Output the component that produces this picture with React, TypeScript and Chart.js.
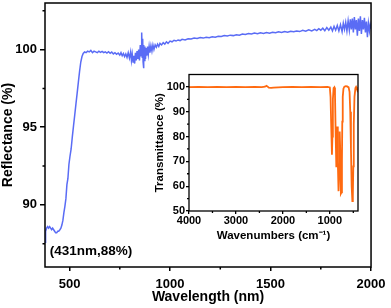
import React, { useEffect, useRef } from 'react';
import { Chart, registerables } from 'chart.js';

Chart.register(...registerables);

// ---------- Main chart data: diffuse reflectance ----------
const wavelength = [
  378, 381, 386, 391, 396, 401, 406, 411, 416, 421, 426, 431, 436, 441, 446, 452, 457, 462, 467, 472,
  477, 482, 487, 492, 497, 502, 508, 514, 520, 526, 532, 538, 544, 550, 556, 562, 568, 575, 582, 590,
  598, 606, 614, 622, 630, 638, 646, 654, 662, 670, 678, 686, 694, 702, 710, 718, 726, 734, 742, 750,
  756, 762, 768, 774, 780, 786, 792, 798, 804, 808, 812, 816, 820, 824, 828, 832, 836, 840, 844, 848,
  852, 856, 858, 860, 862, 864, 866, 868, 870, 872, 875, 878, 881, 884, 888, 892, 896, 900, 905, 910,
  915, 920, 926, 932, 938, 944, 950, 958, 966, 974, 982, 990, 1000, 1010, 1020, 1030, 1040, 1050, 1060, 1075,
  1090, 1105, 1120, 1135, 1150, 1165, 1180, 1195, 1210, 1225, 1240, 1255, 1270, 1285, 1300, 1315, 1330, 1345, 1360, 1375,
  1390, 1405, 1420, 1435, 1450, 1465, 1480, 1495, 1510, 1525, 1540, 1555, 1570, 1585, 1600, 1615, 1630, 1645, 1660, 1675,
  1690, 1705, 1720, 1730, 1740, 1750, 1760, 1770, 1780, 1790, 1800, 1808, 1816, 1824, 1832, 1840, 1848, 1856, 1862, 1868,
  1874, 1880, 1886, 1892, 1897, 1902, 1907, 1912, 1917, 1922, 1927, 1932, 1937, 1942, 1947, 1952, 1957, 1962, 1967, 1972,
  1977, 1982, 1987, 1992, 1996, 2000,
];
const reflectance = [
  87.6, 88.3, 88.5, 88.6, 88.5, 88.6, 88.5, 88.4, 88.5, 88.4, 88.3, 88.2, 88.2, 88.3, 88.3, 88.4, 88.5, 88.7, 89.0, 89.5,
  89.9, 90.4, 91.3, 91.7, 92.6, 93.1, 93.6, 94.4, 95.1, 95.8, 96.5, 97.2, 97.9, 98.6, 99.2, 99.55, 99.75, 99.85, 99.8, 99.9,
  99.85, 99.95, 99.8, 99.9, 99.85, 99.8, 99.9, 99.82, 99.88, 99.8, 99.85, 99.78, 99.86, 99.76, 99.84, 99.72, 99.8, 99.7, 99.78, 99.64,
  99.8, 99.6, 99.75, 99.55, 99.72, 99.5, 99.8, 99.45, 99.85, 99.3, 99.7, 99.2, 99.6, 99.1, 99.8, 99.3, 99.9, 99.4, 100.0, 99.3,
  100.3, 99.6, 100.6, 101.1, 99.5, 100.7, 99.2, 98.8, 100.3, 99.3, 100.2, 99.4, 100.1, 99.6, 100.2, 99.7, 100.2, 99.8, 100.25, 99.9,
  100.3, 100.0, 100.3, 100.15, 100.35, 100.2, 100.4, 100.3, 100.45, 100.35, 100.5, 100.4, 100.55, 100.5, 100.6, 100.55, 100.62, 100.58, 100.66, 100.62,
  100.7, 100.68, 100.74, 100.72, 100.78, 100.74, 100.8, 100.77, 100.83, 100.8, 100.86, 100.84, 100.9, 100.87, 100.93, 100.9, 100.96, 100.93, 101.0, 100.97,
  101.03, 101.0, 101.06, 101.02, 101.08, 101.04, 101.1, 101.06, 101.12, 101.08, 101.14, 101.1, 101.16, 101.12, 101.18, 101.15, 101.2, 101.16, 101.24, 101.18,
  101.27, 101.2, 101.3, 101.22, 101.35, 101.25, 101.38, 101.22, 101.42, 101.25, 101.45, 101.2, 101.5, 101.25, 101.55, 101.2, 101.6, 101.15, 101.7, 101.3,
  101.75, 101.2, 101.85, 101.25, 101.95, 101.3, 102.0, 101.1, 102.1, 101.3, 101.9, 100.9, 102.0, 101.2, 102.15, 101.0, 101.9, 101.3, 102.05, 101.1,
  101.8, 100.8, 101.7, 101.2, 101.6, 101.35,
];

// ---------- Inset data: FTIR transmittance ----------
const wavenumber = [
  4000, 3800, 3600, 3400, 3200, 3000, 2800, 2600, 2450, 2380, 2350, 2330, 2300, 2250, 2200, 2100, 2000, 1800, 1600, 1400,
  1200, 1050, 1000, 985, 970, 955, 945, 935, 920, 905, 890, 875, 862, 852, 842, 830, 815, 800, 790, 778,
  765, 752, 742, 735, 725, 710, 690, 660, 630, 600, 580, 565, 550, 535, 520, 510, 500, 490, 475, 455,
  440, 425, 410, 400,
];
const transmittance = [
  99.9, 100.0, 99.9, 100.0, 99.95, 100.0, 99.9, 100.0, 99.95, 100.1, 100.45, 100.2, 99.7, 99.6, 99.7, 99.8, 99.9, 100.0, 99.9, 100.0,
  99.95, 100.0, 99.8, 96, 84, 72.7, 80, 95, 99.5, 99.8, 97, 80, 68, 75, 84, 70, 58, 68, 82, 74,
  57, 57.5, 70, 86, 96, 99.3, 100.1, 100.3, 100.2, 99.8, 98, 90, 75, 60, 54, 56, 68, 85, 96, 99.5,
  100, 99.5, 98.5, 97.8,
];

// ---------- Ticks ----------
const mainXTicks = [500, 1000, 1500, 2000];
const mainXMinor = [750, 1250, 1750];
const mainYTicks = [90, 95, 100];
const mainYMinor = [87.5, 92.5, 97.5, 102.5];
const insetXTicks = [4000, 3000, 2000, 1000];
const insetXMinor = [3500, 2500, 1500, 500];
const insetYTicks = [50, 60, 70, 80, 90, 100];
const insetYMinor = [55, 65, 75, 85, 95];

const annotationText = '(431nm,88%)';
const annotationAt = [402, 87.04];

const FONT = "'Liberation Sans', Arial, Helvetica, sans-serif";

function framePlugin(id: string, minorX: number[], minorY: number[], minorLen: number, lw: number, fillWhite: boolean) {
  return {
    id,
    beforeDraw(chart: any) {
      if (!fillWhite) return;
      const { ctx, chartArea: a } = chart;
      ctx.save();
      ctx.fillStyle = '#ffffff';
      ctx.fillRect(a.left, a.top, a.right - a.left, a.bottom - a.top);
      ctx.restore();
    },
    afterDraw(chart: any) {
      const { ctx, chartArea: a, scales } = chart;
      ctx.save();
      ctx.strokeStyle = '#000';
      ctx.lineWidth = lw;
      ctx.strokeRect(a.left, a.top, a.right - a.left, a.bottom - a.top);
      ctx.beginPath();
      minorX.forEach((v) => {
        const px = scales.x.getPixelForValue(v);
        ctx.moveTo(px, a.bottom);
        ctx.lineTo(px, a.bottom + minorLen);
      });
      minorY.forEach((v) => {
        const py = scales.y.getPixelForValue(v);
        ctx.moveTo(a.left, py);
        ctx.lineTo(a.left - minorLen, py);
      });
      ctx.stroke();
      ctx.restore();
    },
  };
}

const annotationPlugin = {
  id: 'annot',
  afterDatasetsDraw(chart: any) {
    const { ctx, scales } = chart;
    ctx.save();
    ctx.font = `bold 13.5px ${FONT}`;
    ctx.fillStyle = '#000';
    ctx.textAlign = 'left';
    ctx.textBaseline = 'middle';
    ctx.fillText(annotationText, scales.x.getPixelForValue(annotationAt[0]), scales.y.getPixelForValue(annotationAt[1]));
    ctx.restore();
  },
};

function gridOpts(len: number, w: number) {
  return {
    display: true,
    drawOnChartArea: false,
    drawTicks: true,
    tickLength: len,
    tickColor: '#000',
    tickWidth: w,
    color: '#000',
    lineWidth: w,
  };
}

const plain = (v: any) => String(v);

export default function App() {
  const mainRef = useRef<HTMLCanvasElement>(null);
  const insetRef = useRef<HTMLCanvasElement>(null);

  useEffect(() => {
    const main = new Chart(mainRef.current as HTMLCanvasElement, {
      type: 'line',
      data: {
        datasets: [
          {
            data: wavelength.map((x, i) => ({ x, y: reflectance[i] })),
            borderColor: '#5a6cf5',
            borderWidth: 1.5,
            pointRadius: 0,
            tension: 0,
            fill: false,
          },
        ],
      },
      options: {
        animation: false,
        responsive: false,
        maintainAspectRatio: false,
        events: [],
        layout: { padding: { top: 3, right: 17, left: 0, bottom: 0 } },
        plugins: { legend: { display: false }, tooltip: { enabled: false } },
        scales: {
          x: {
            type: 'linear',
            min: 378,
            max: 2000,
            afterBuildTicks: (s: any) => {
              s.ticks = mainXTicks.map((v) => ({ value: v }));
            },
            afterFit: (s: any) => {
              s.height = 41;
            },
            ticks: {
              font: { family: FONT, size: 13, weight: 'bold' },
              color: '#000',
              padding: 5.5,
              maxRotation: 0,
              autoSkip: false,
              callback: plain,
            },
            grid: gridOpts(4, 1.5),
            border: { display: false },
            title: {
              display: true,
              text: 'Wavelength (nm)',
              font: { family: FONT, size: 14, weight: 'bold' },
              color: '#000',
              padding: { top: 0, bottom: 2 },
            },
          },
          y: {
            type: 'linear',
            min: 86,
            max: 103,
            afterBuildTicks: (s: any) => {
              s.ticks = mainYTicks.map((v) => ({ value: v }));
            },
            afterFit: (s: any) => {
              s.width = 45;
              s.paddingTop = 0;
              s.paddingBottom = 0;
            },
            ticks: {
              font: { family: FONT, size: 13, weight: 'bold' },
              color: '#000',
              padding: 3,
              autoSkip: false,
              callback: plain,
            },
            grid: gridOpts(5, 1.5),
            border: { display: false },
            title: {
              display: true,
              text: 'Reflectance (%)',
              font: { family: FONT, size: 14, weight: 'bold' },
              color: '#000',
              padding: { top: 0, bottom: 0 },
            },
          },
        },
      } as any,
      plugins: [framePlugin('mainFrame', mainXMinor, mainYMinor, 2.5, 1.5, false), annotationPlugin],
    });

    const inset = new Chart(insetRef.current as HTMLCanvasElement, {
      type: 'line',
      data: {
        datasets: [
          {
            data: wavenumber.map((x, i) => ({ x, y: transmittance[i] })),
            borderColor: '#ff6a10',
            borderWidth: 1.8,
            pointRadius: 0,
            tension: 0,
            fill: false,
          },
        ],
      },
      options: {
        animation: false,
        responsive: false,
        maintainAspectRatio: false,
        events: [],
        layout: { padding: { top: 4.5, right: 12, left: 0, bottom: 0 } },
        plugins: { legend: { display: false }, tooltip: { enabled: false } },
        scales: {
          x: {
            type: 'linear',
            reverse: true,
            min: 400,
            max: 4000,
            afterBuildTicks: (s: any) => {
              s.ticks = insetXTicks.map((v) => ({ value: v }));
            },
            afterFit: (s: any) => {
              s.height = 34;
            },
            ticks: {
              font: { family: FONT, size: 11, weight: 'bold' },
              color: '#000',
              padding: 0,
              maxRotation: 0,
              autoSkip: false,
              callback: plain,
            },
            grid: gridOpts(3, 1.3),
            border: { display: false },
            title: {
              display: true,
              text: 'Wavenumbers (cm\u207B\u00B9)',
              font: { family: FONT, size: 11.5, weight: 'bold' },
              color: '#000',
              padding: { top: 0, bottom: 2.6 },
            },
          },
          y: {
            type: 'linear',
            min: 50,
            max: 105,
            afterBuildTicks: (s: any) => {
              s.ticks = insetYTicks.map((v) => ({ value: v }));
            },
            afterFit: (s: any) => {
              s.width = 37;
              s.paddingTop = 0;
              s.paddingBottom = 0;
            },
            ticks: {
              font: { family: FONT, size: 11, weight: 'bold' },
              color: '#000',
              padding: 1,
              autoSkip: false,
              callback: plain,
            },
            grid: gridOpts(3, 1.3),
            border: { display: false },
            title: {
              display: true,
              text: 'Transmittance (%)',
              font: { family: FONT, size: 11.5, weight: 'bold' },
              color: '#000',
              padding: { top: 1, bottom: 0 },
            },
          },
        },
      } as any,
      plugins: [framePlugin('insetFrame', insetXMinor, insetYMinor, 2, 1.3, true)],
    });

    return () => {
      main.destroy();
      inset.destroy();
    };
  }, []);

  return (
    <div style={{ position: 'absolute', left: 0, top: 0, width: 391, height: 308, background: '#fff' }}>
      <canvas ref={mainRef} width={391} height={308} style={{ position: 'absolute', left: 0, top: 0, width: 391, height: 308 }} />
      <canvas ref={insetRef} width={218} height={175} style={{ position: 'absolute', left: 152, top: 70, width: 218, height: 175 }} />
    </div>
  );
}
